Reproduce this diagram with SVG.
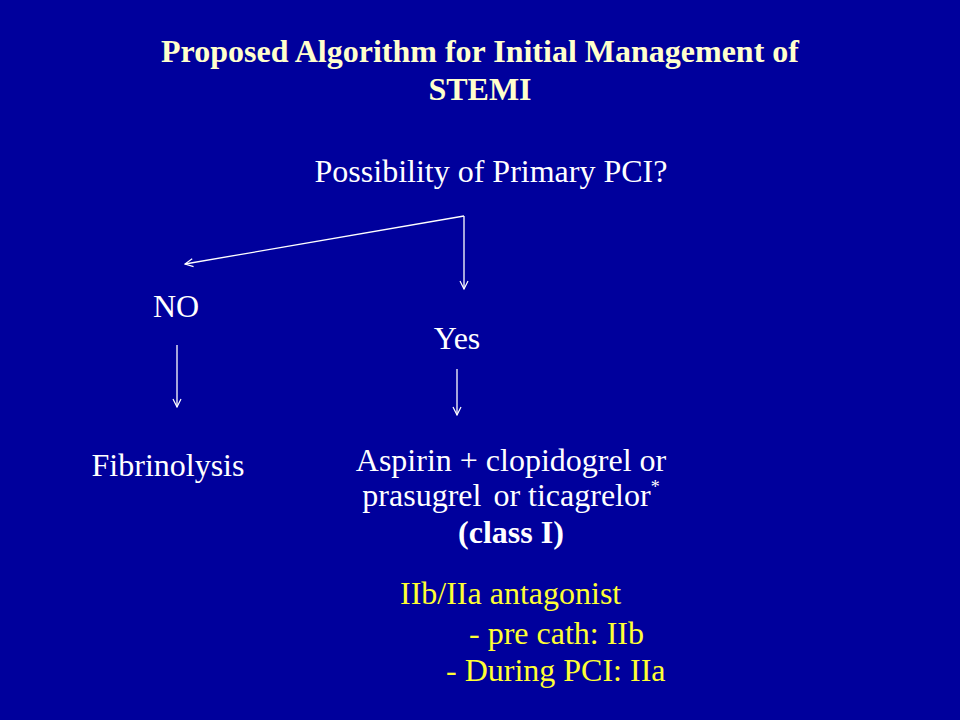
<svg xmlns="http://www.w3.org/2000/svg" width="960" height="720" viewBox="0 0 960 720">
<style>
text{font-family:"Liberation Serif","Times New Roman",serif;font-size:32px;fill:#ffffff}
.t{font-weight:bold;fill:#ffffcc}
.b{font-weight:bold}
.y{fill:#ffff33}
.c{stroke:#ffffff;stroke-width:1.3;fill:none}
</style>
<defs>
<marker id="ah" viewBox="0 0 10 10" refX="9" refY="5" markerWidth="10" markerHeight="10" markerUnits="userSpaceOnUse" orient="auto">
<polyline points="1,1 9,5 1,9" fill="none" stroke="#ffffff" stroke-width="1.2"/>
</marker>
</defs>
<rect width="960" height="720" fill="#00009c"/>
<g id="title">
<text class="t" x="480" y="62" text-anchor="middle">Proposed Algorithm for Initial Management of</text>
<text class="t" x="480" y="100" text-anchor="middle">STEMI</text>
</g>
<g id="question"><text x="491" y="182" text-anchor="middle">Possibility of Primary PCI?</text></g>
<g id="no"><text x="176" y="317" text-anchor="middle">NO</text></g>
<g id="yes"><text x="457" y="349" text-anchor="middle">Yes</text></g>
<g id="fibrinolysis"><text x="168" y="476" text-anchor="middle">Fibrinolysis</text></g>
<g id="antiplatelet">
<text x="511" y="471" text-anchor="middle">Aspirin + clopidogrel or</text>
<text x="511" y="506" text-anchor="middle">prasugrel <tspan dx="4">or ticagrelor</tspan><tspan font-size="18" dy="-13">*</tspan></text>
<text class="b" x="511" y="543" text-anchor="middle">(class I)</text>
</g>
<g id="antagonist">
<text class="y" x="400" y="604">IIb/IIa antagonist</text>
<text class="y" x="469" y="644">- pre cath: IIb</text>
<text class="y" x="446" y="681">- During PCI: IIa</text>
</g>
<g id="connectors">
<polyline class="c" points="464,216 185,264" marker-end="url(#ah)"/>
<line class="c" x1="464" y1="216" x2="464" y2="289" marker-end="url(#ah)"/>
<line class="c" x1="177" y1="345" x2="177" y2="407" marker-end="url(#ah)"/>
<line class="c" x1="457" y1="369" x2="457" y2="415" marker-end="url(#ah)"/>
</g>
</svg>
